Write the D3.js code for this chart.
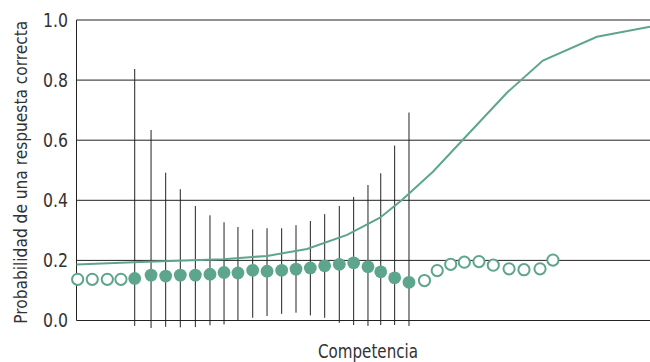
<!DOCTYPE html>
<html>
<head>
<meta charset="utf-8">
<script src="https://cdn.jsdelivr.net/npm/d3@7"></script>
<style>
  html, body { margin: 0; padding: 0; background: #fff; }
  svg { display: block; }
  text { font-family: "Liberation Sans Narrow", "DejaVu Sans Condensed", "Arial Narrow", sans-serif; fill: #333; }
</style>
</head>
<body>
<svg id="chart" width="650" height="362"></svg>
<script>
// Competence positions of the observed proportions
const obsX = [0.08, 1.10, 2.15, 3.10, 4.06, 5.20, 6.22, 7.24, 8.29, 9.31, 10.29, 11.26,
  12.29, 13.29, 14.31, 15.31, 16.31, 17.31, 18.33, 19.33, 20.33, 21.22, 22.19, 23.19,
  24.27, 25.16, 26.10, 27.05, 28.07, 29.07, 30.17, 31.21, 32.33, 33.23];
// Observed proportion correct
const obsP = [0.137, 0.137, 0.137, 0.137, 0.140, 0.151, 0.148, 0.151, 0.151, 0.154, 0.160, 0.158,
  0.167, 0.164, 0.167, 0.171, 0.175, 0.182, 0.187, 0.192, 0.179, 0.162, 0.142, 0.127,
  0.133, 0.166, 0.187, 0.194, 0.196, 0.184, 0.172, 0.169, 0.172, 0.201];
// Whether the point belongs to the fitted range (filled) or not (open)
const obsFilled = [0, 0, 0, 0, 1, 1, 1, 1, 1, 1, 1, 1, 1, 1, 1, 1, 1, 1, 1, 1, 1, 1, 1, 1,
  0, 0, 0, 0, 0, 0, 0, 0, 0, 0];
// Interval bounds for the filled points (in order)
const ciLow = [-0.018, -0.025, -0.021, -0.023, -0.022, -0.016, -0.013, 0.000, 0.009, 0.015,
  0.022, 0.026, 0.017, 0.009, -0.008, -0.015, -0.018, -0.015, -0.015, -0.018];
const ciHigh = [0.837, 0.634, 0.492, 0.437, 0.381, 0.350, 0.327, 0.311, 0.303, 0.307,
  0.307, 0.317, 0.331, 0.354, 0.381, 0.411, 0.451, 0.490, 0.582, 0.692];
// Model item characteristic curve
const curveX = [0, 4.43, 10.22, 13.29, 16.08, 18.87, 21.17, 22.70, 24.86, 30.02, 32.53, 36.30, 40];
const curveP = [0.186, 0.195, 0.204, 0.215, 0.238, 0.285, 0.342, 0.401, 0.495, 0.758, 0.865, 0.944, 0.978];
// Axis ticks
const yTicks = [0.0, 0.2, 0.4, 0.6, 0.8, 1.0];
const yTitle = "Probabilidad de una respuesta correcta";
const xTitle = "Competencia";

const teal = "#5ea58d";
const svg = d3.select("#chart");

const x = d3.scaleLinear().domain([0, 40]).range([76.5, 650]);
const y = d3.scaleLinear().domain([0, 1]).range([320.5, 20]);

// Horizontal gridlines
svg.append("g").selectAll("line").data(yTicks).join("line")
  .attr("x1", x(0)).attr("x2", x(40))
  .attr("y1", d => y(d)).attr("y2", d => y(d))
  .attr("stroke", "#222").attr("stroke-width", 1);

// Left axis line
svg.append("line")
  .attr("x1", x(0)).attr("x2", x(0))
  .attr("y1", y(1)).attr("y2", y(0))
  .attr("stroke", "#222").attr("stroke-width", 1);

// Tick labels (narrowed to a condensed look)
svg.append("g").selectAll("text").data(yTicks).join("text")
  .attr("x", 68).attr("y", d => y(d)).attr("dy", "0.36em")
  .attr("text-anchor", "end").attr("font-size", 19)
  .attr("textLength", 25).attr("lengthAdjust", "spacingAndGlyphs")
  .text(d => d3.format(".1f")(d));

// Interval bars for the filled points
const filledIdx = obsX.map((_, i) => i).filter(i => obsFilled[i]);
svg.append("g").selectAll("line").data(filledIdx).join("line")
  .attr("x1", i => x(obsX[i])).attr("x2", i => x(obsX[i]))
  .attr("y1", (i, k) => y(ciHigh[k])).attr("y2", (i, k) => y(ciLow[k]))
  .attr("stroke", "#222").attr("stroke-width", 1);

// Model curve
svg.append("path")
  .datum(curveX.map((cx, i) => [cx, curveP[i]]))
  .attr("d", d3.line().x(d => x(d[0])).y(d => y(d[1])))
  .attr("fill", "none").attr("stroke", teal).attr("stroke-width", 2);

// Observed points
svg.append("g").selectAll("circle").data(obsX.map((_, i) => i)).join("circle")
  .attr("cx", i => x(obsX[i])).attr("cy", i => y(obsP[i]))
  .attr("r", i => obsFilled[i] ? 6.4 : 5.6)
  .attr("fill", i => obsFilled[i] ? teal : "#fff")
  .attr("stroke", teal)
  .attr("stroke-width", i => obsFilled[i] ? 0 : 2);

// Axis titles
svg.append("text")
  .attr("transform", `translate(27, ${(y(0) + y(1)) / 2 + 2}) rotate(-90)`)
  .attr("text-anchor", "middle").attr("font-size", 18)
  .attr("textLength", 303).attr("lengthAdjust", "spacingAndGlyphs")
  .text(yTitle);

svg.append("text")
  .attr("x", 368).attr("y", 358)
  .attr("text-anchor", "middle").attr("font-size", 19)
  .attr("textLength", 100).attr("lengthAdjust", "spacingAndGlyphs")
  .text(xTitle);
</script>
</body>
</html>
